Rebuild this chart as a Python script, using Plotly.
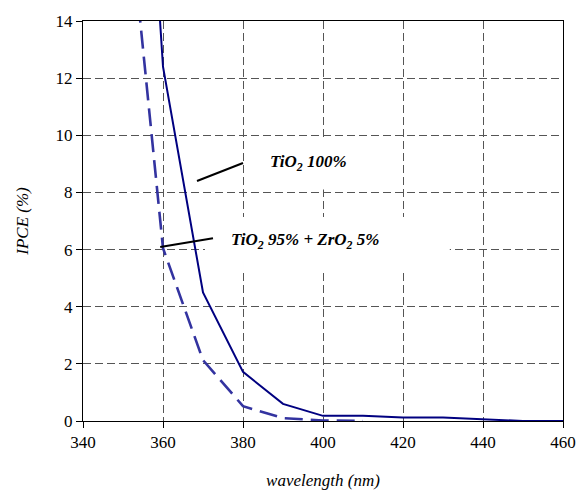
import plotly.graph_objects as go

# Data
wl_tio2 = [350, 360, 370, 380, 390, 400, 410, 420, 430, 440, 450, 460]
ipce_tio2 = [34.0, 12.4, 4.5, 1.72, 0.6, 0.18, 0.18, 0.12, 0.12, 0.06, 0.0, 0.0]
wl_mix = [350, 360, 370, 380, 390, 400, 410]
ipce_mix = [20.0, 6.05, 2.13, 0.52, 0.1, 0.02, 0.0]

x_ticks = [340, 360, 380, 400, 420, 440, 460]
y_ticks = [0, 2, 4, 6, 8, 10, 12, 14]

FONT = "Liberation Serif, Times New Roman, DejaVu Serif, serif"

fig = go.Figure()
fig.add_trace(go.Scatter(x=wl_tio2, y=ipce_tio2, mode="lines",
                         line=dict(color="#000080", width=2), showlegend=False,
                         cliponaxis=True))
fig.add_trace(go.Scatter(x=wl_mix, y=ipce_mix, mode="lines",
                         line=dict(color="#3333A0", width=2.6, dash="18px,8px"),
                         showlegend=False, cliponaxis=True))

# white label boxes (between gridlines and traces)
fig.add_shape(type="rect", x0=380.5, x1=419.2, y0=8.1, y1=9.93, xref="x", yref="y",
              fillcolor="white", line=dict(width=0), layer="between")
fig.add_shape(type="rect", x0=370.5, x1=431.7, y0=5.22, y1=7.14, xref="x", yref="y",
              fillcolor="white", line=dict(width=0), layer="between")

# leader lines
fig.add_shape(type="line", x0=368.5, y0=8.4, x1=380, y1=9.03, xref="x", yref="y",
              line=dict(color="black", width=2), layer="above")
fig.add_shape(type="line", x0=359.3, y0=6.09, x1=372.5, y1=6.4, xref="x", yref="y",
              line=dict(color="black", width=2), layer="above")

fig.add_annotation(x=396.3, y=9.03, xref="x", yref="y", showarrow=False,
                   text="<b><i>TiO<sub>2</sub> 100%</i></b>",
                   font=dict(family=FONT, size=17, color="black"))
fig.add_annotation(x=395.5, y=6.3, xref="x", yref="y", showarrow=False,
                   text="<b><i>TiO<sub>2</sub> 95% + ZrO<sub>2</sub> 5%</i></b>",
                   font=dict(family=FONT, size=17, color="black"))

axis_common = dict(
    showline=True, linecolor="black", linewidth=1, mirror=True,
    ticks="outside", ticklen=6, tickcolor="black", tickwidth=1,
    showgrid=True, gridcolor="#555555", gridwidth=1, griddash="8px,4px",
    zeroline=False, automargin=False,
    tickfont=dict(family=FONT, size=17, color="black"),
)

fig.update_xaxes(range=[340, 460], tickvals=x_ticks, **axis_common,
                 title=dict(text="<i>wavelength (nm)</i>", standoff=22,
                            font=dict(family=FONT, size=17, color="black")))
fig.update_yaxes(range=[0, 14], tickvals=y_ticks, **axis_common,
                 title=dict(text="<i>IPCE (%)</i>", standoff=22,
                            font=dict(family=FONT, size=17, color="black")))

fig.update_layout(
    width=578, height=493,
    margin=dict(l=83, r=15, t=21, b=72),
    plot_bgcolor="white", paper_bgcolor="white",
    font=dict(family=FONT, color="black"),
)

fig.write_html("out.html")
